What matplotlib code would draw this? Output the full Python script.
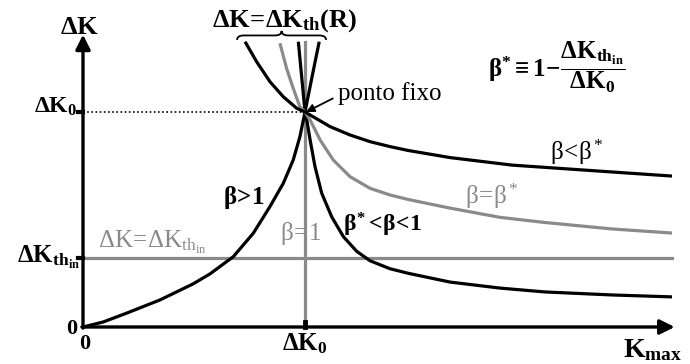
import numpy as np
import matplotlib
matplotlib.use("Agg")
import matplotlib.pyplot as plt
from matplotlib.path import Path
from matplotlib.patches import PathPatch

plt.rcParams["mathtext.fontset"] = "custom"
plt.rcParams["mathtext.rm"] = "Liberation Serif"
plt.rcParams["mathtext.it"] = "Liberation Serif"
plt.rcParams["mathtext.bf"] = "Liberation Serif:bold"
plt.rcParams["font.family"] = "Liberation Serif"

# data units: Kmax / dK0 on x, dK / dK0 on y (fixed point at 1, 1)
dK_thin = 0.321
x_end = 2.653
y_top = 1.326

# beta > 1 (rising from origin through the fixed point)
beta_gt1_x = [0, 0.09, 0.198, 0.347, 0.495, 0.572, 0.677, 0.767, 0.842, 0.902, 0.947, 0.977, 1.0, 1.032, 1.064]
beta_gt1_y = [0, 0.023, 0.065, 0.126, 0.200, 0.247, 0.327, 0.436, 0.560, 0.668, 0.777, 0.885, 1.0, 1.165, 1.327]

# beta* < beta < 1
beta_mid_x = [0.970, 1.0, 1.008, 1.023, 1.045, 1.075, 1.120, 1.173, 1.233, 1.293, 1.383, 1.464,
              1.653, 1.878, 2.081, 2.383, 2.653]
beta_mid_y = [1.327, 1.0, 0.963, 0.870, 0.746, 0.623, 0.513, 0.420, 0.352, 0.308, 0.271, 0.250,
              0.209, 0.181, 0.163, 0.149, 0.140]

# beta = beta*
beta_star_x = [0.887, 0.917, 0.947, 0.977, 1.0, 1.023, 1.068, 1.127, 1.203, 1.293, 1.383, 1.465,
               1.653, 1.878, 2.081, 2.383, 2.653]
beta_star_y = [1.320, 1.203, 1.110, 1.024, 1.0, 0.963, 0.870, 0.777, 0.699, 0.645, 0.614, 0.593,
               0.553, 0.510, 0.486, 0.456, 0.437]

# beta < beta*
beta_lt_x = [0.730, 0.782, 0.842, 0.902, 0.963, 1.0, 1.023, 1.113, 1.203, 1.293, 1.383, 1.465,
             1.653, 1.932, 2.383, 2.653]
beta_lt_y = [1.327, 1.234, 1.141, 1.071, 1.017, 1.0, 0.986, 0.932, 0.893, 0.862, 0.839, 0.821,
             0.788, 0.753, 0.721, 0.702]

gray = "#8a8a8a"
lw = 2.3

fig = plt.figure(figsize=(6.9, 3.64), dpi=100)
ax = fig.add_axes([0, 0, 1, 1])
ax.set_xlim(-0.3739, 2.7342)
ax.set_ylim(-0.1721, 1.5209)
ax.axis("off")

# reference lines
ax.plot([0, x_end], [dK_thin, dK_thin], color=gray, lw=lw)
ax.plot([1, 1], [0, y_top], color=gray, lw=lw)
ax.plot([0, 1], [1, 1], color="k", lw=1.2, ls=(0, (1, 1.5)))

# curves
for xs, ys, c in [(beta_gt1_x, beta_gt1_y, "k"), (beta_mid_x, beta_mid_y, "k"),
                  (beta_star_x, beta_star_y, gray), (beta_lt_x, beta_lt_y, "k")]:
    ax.plot(xs, ys, color=c, lw=lw, solid_capstyle="butt", solid_joinstyle="round")

# axes with arrows
ax.annotate("", xy=(0, 1.36), xytext=(0, -0.005),
            arrowprops=dict(arrowstyle="-|>", lw=2.4, color="k", mutation_scale=22, shrinkA=0, shrinkB=0))
ax.annotate("", xy=(2.665, 0), xytext=(-0.005, 0),
            arrowprops=dict(arrowstyle="-|>", lw=2.4, color="k", mutation_scale=22, shrinkA=0, shrinkB=0))

# small ticks
ax.plot([-0.022, 0], [1, 1], color="k", lw=3)
ax.plot([-0.022, 0], [dK_thin, dK_thin], color="k", lw=3)
ax.plot([1, 1], [0, 0.025], color="k", lw=3.5)

# brace over the family of curves
bx0, bx1, by, bh = 0.694, 1.095, 1.335, 0.042
bm = (bx0 + bx1) / 2
verts = [(bx0, by), (bx0, by + bh / 2), (bx0 + 0.03, by + bh / 2),
         (bm - 0.03, by + bh / 2), (bm, by + bh / 2), (bm, by + bh),
         (bm, by + bh / 2), (bm + 0.03, by + bh / 2),
         (bx1 - 0.03, by + bh / 2), (bx1, by + bh / 2), (bx1, by)]
codes = [Path.MOVETO, Path.CURVE3, Path.CURVE3, Path.LINETO, Path.CURVE3, Path.CURVE3,
         Path.CURVE3, Path.CURVE3, Path.LINETO, Path.CURVE3, Path.CURVE3]
ax.add_patch(PathPatch(Path(verts, codes), fill=False, lw=1.3, color="k"))

# labels
ax.text(-0.014, 1.391, r"$\mathbf{\Delta K}$", fontsize=19, ha="center", va="center")
ax.text(-0.025, 0.995, r"$\mathbf{\Delta K_0}$", fontsize=17, ha="right", va="baseline")
ax.text(-0.012, 0.298, r"$\mathbf{\Delta K_{th_{in}}}$", fontsize=18, ha="right", va="baseline")
ax.text(-0.023, -0.033, r"$\mathbf{0}$", fontsize=16, ha="right", va="baseline")
ax.text(0.009, -0.102, r"$\mathbf{0}$", fontsize=16, ha="center", va="baseline")
ax.text(1.0, -0.107, r"$\mathbf{\Delta K_0}$", fontsize=18, ha="center", va="baseline")
ax.text(2.432, -0.140, r"$\mathbf{K_{max}}$", fontsize=20, ha="left", va="baseline")
ax.text(0.91, 1.395, r"$\mathbf{\Delta K\!=\!\Delta K_{th}(R)}$", fontsize=19, ha="center", va="baseline")
ax.text(1.824, 1.207, r"$\mathbf{\beta^{\!*}\!\equiv 1\!-\!\dfrac{\Delta K_{th_{in}}}{\Delta K_0}}$",
        fontsize=18, ha="left", va="center")

ax.annotate("ponto fixo", xy=(1.005, 1.0), xytext=(1.149, 1.056), fontsize=18, va="baseline",
            arrowprops=dict(arrowstyle="-|>", lw=1.3, color="k", mutation_scale=12,
                            shrinkA=2, shrinkB=0, relpos=(0, 0.4)))

ax.text(2.104, 0.777, r"$\beta\!<\!\beta^{\!*}$", fontsize=18, ha="left", va="baseline")
ax.text(1.721, 0.572, r"$\beta\!=\!\beta^{\!*}$", fontsize=18, ha="left", va="baseline", color=gray)
ax.text(1.171, 0.442, r"$\mathbf{\beta^{\!*}\!<\!\beta\!<\!1}$", fontsize=17, ha="left", va="baseline")
ax.text(0.631, 0.572, r"$\mathbf{\beta\!>\!1}$", fontsize=18, ha="left", va="baseline")
ax.text(0.887, 0.405, r"$\beta\!=\!1$", fontsize=18, ha="left", va="baseline", color=gray)
ax.text(0.068, 0.367, r"$\Delta K\!=\!\Delta K_{th_{in}}$", fontsize=18, ha="left", va="baseline", color=gray)

fig.savefig("out.png", dpi=100)
